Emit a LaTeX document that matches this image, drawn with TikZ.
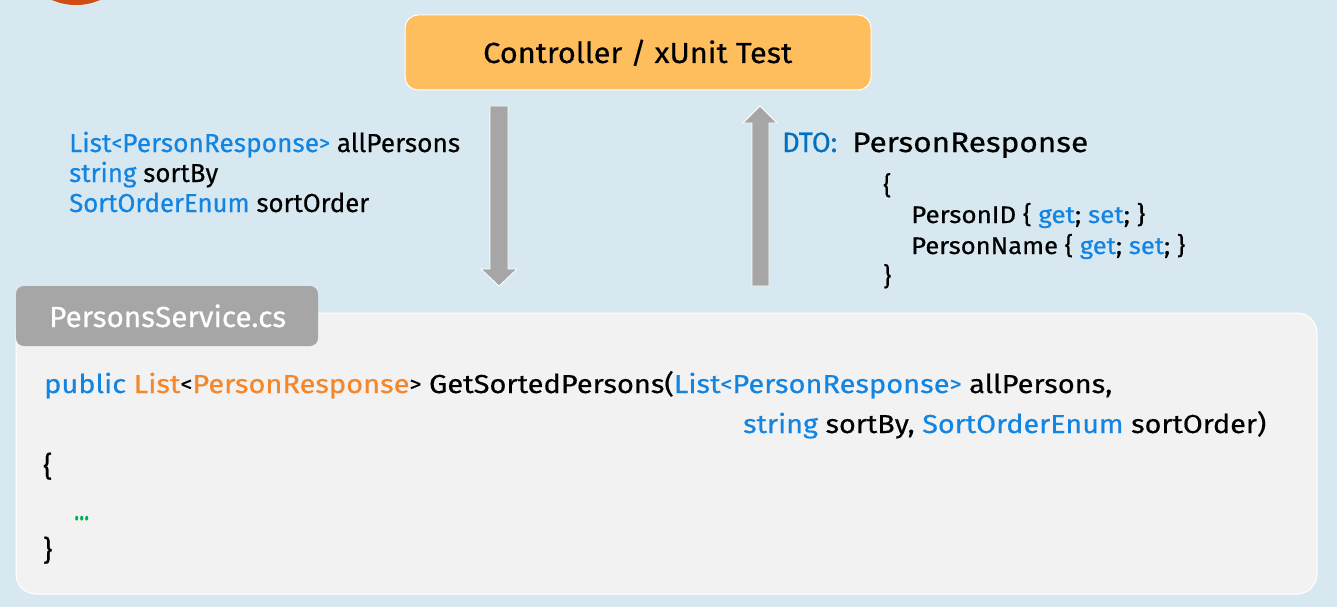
\documentclass[tikz,border=0pt]{standalone}
\usepackage{fontspec}
\setmainfont{Fira Sans}[FakeBold=0.45]
\usepackage{graphicx}
\definecolor{bgc}{RGB}{216,232,241}
\definecolor{circc}{RGB}{208,76,16}
\definecolor{ctrlfill}{RGB}{255,190,94}
\definecolor{arrowgray}{RGB}{166,166,166}
\definecolor{codefill}{RGB}{242,242,242}
\definecolor{kw}{RGB}{18,132,226}
\definecolor{dto}{RGB}{0,112,192}
\definecolor{typ}{RGB}{245,134,42}
\definecolor{grn}{RGB}{0,176,80}
\newcommand\fitto[2]{\resizebox{#1pt}{\height}{#2}}
\newcommand\lb{\raisebox{0.06em}{\scalebox{0.82}{<}}}
\newcommand\rb{\raisebox{0.06em}{\scalebox{0.82}{>}}}
\tikzset{
  txt/.style={inner sep=0pt, anchor=base west},
  blockarrow/.style={fill=arrowgray, draw=white, line width=0.8pt},
  boxline/.style={draw=white, line width=1pt}
}
\begin{document}
\begin{tikzpicture}[x=1pt,y=-1pt]
\fill[bgc] (0,0) rectangle (1337,607);
\useasboundingbox (0,0) rectangle (1337,607);
\begin{scope}
  \clip (0,0) rectangle (1337,607);
  \fill[circc] (76,-55) circle (60);
\end{scope}
% controller box
\draw[boxline, fill=ctrlfill, rounded corners=13pt] (405,15) rectangle (871,90);
\node[txt, font=\fontsize{29}{34}\selectfont] (ctrltxt) at (483,63) {\fitto{309}{Controller / xUnit Test}};
% block arrows
\draw[blockarrow] (490,106) -- (508,106) -- (508,269) -- (517,269) -- (499,286) -- (481,269) -- (490,269) -- cycle;
\draw[blockarrow] (752,286) -- (769,286) -- (769,123) -- (777,123) -- (760,106) -- (743,123) -- (752,123) -- cycle;
% left parameter text
\node[txt, font=\fontsize{26}{30}\selectfont] (p1) at (69,152) {\fitto{391}{\textcolor{kw}{List\lb PersonResponse\rb} allPersons}};
\node[txt, font=\fontsize{26}{30}\selectfont] (p2) at (69,182) {\fitto{149}{\textcolor{kw}{string} sortBy}};
\node[txt, font=\fontsize{26}{30}\selectfont] (p3) at (69,212) {\fitto{300}{\textcolor{kw}{SortOrderEnum} sortOrder}};
% DTO text
\node[txt, font=\fontsize{28}{32}\selectfont, text=dto] (dtolbl) at (782,152) {\fitto{55}{DTO:}};
\node[txt, font=\fontsize{28}{32}\selectfont] (dtoname) at (852,152) {\fitto{236}{PersonResponse}};
\node[txt, font=\fontsize{25}{28}\selectfont] (ob) at (883,194) {\{};
\node[txt, font=\fontsize{24}{28}\selectfont] (f1) at (911,223) {\fitto{234}{PersonID \{ \textcolor{kw}{get}; \textcolor{kw}{set}; \}}};
\node[txt, font=\fontsize{24}{28}\selectfont] (f2) at (911,254) {\fitto{274}{PersonName \{ \textcolor{kw}{get}; \textcolor{kw}{set}; \}}};
\node[txt, font=\fontsize{25}{28}\selectfont] (cb) at (883,285) {\}};
% code box
\draw[boxline, fill=codefill, rounded corners=20pt] (16,313) rectangle (1317,594);
\fill[arrowgray, rounded corners=8pt] (16,286) rectangle (318,346);
\node[txt, font=\fontsize{29}{34}\selectfont, text=white] (tabtxt) at (49,327) {\fitto{237}{PersonsService.cs}};
\node[txt, font=\fontsize{26}{30}\selectfont] (c1) at (44,393) {\fitto{1068}{\textcolor{kw}{public} \textcolor{typ}{List}\lb\textcolor{typ}{PersonResponse}\rb{} GetSortedPersons(\textcolor{kw}{List\lb PersonResponse\rb} allPersons,}};
\node[txt, font=\fontsize{26}{30}\selectfont] (c2) at (743,433) {\fitto{523}{\textcolor{kw}{string} sortBy, \textcolor{kw}{SortOrderEnum} sortOrder)}};
\node[txt, font=\fontsize{28}{30}\selectfont] (c3) at (43,476) {\{};
\node[txt, font=\fontsize{32}{34}\selectfont, text=grn] (c4) at (74,520) {\fitto{15}{...}};
\node[txt, font=\fontsize{28}{30}\selectfont] (c5) at (43,560) {\}};
\end{tikzpicture}
\end{document}
